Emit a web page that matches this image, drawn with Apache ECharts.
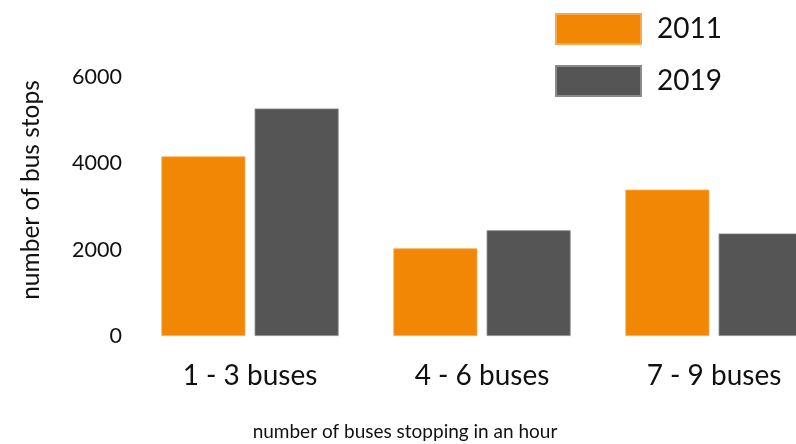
<!DOCTYPE html>
<html>
<head>
<meta charset="utf-8">
<script src="https://cdn.jsdelivr.net/npm/echarts@6/dist/echarts.min.js"></script>
<style>
  html, body { margin: 0; padding: 0; background: #fff; }
  #chart { width: 796px; height: 444px; }
</style>
</head>
<body>
<div id="chart"></div>
<script>
// Bus stops by hourly bus frequency, 2011 vs 2019
const categories = ['1 - 3 buses', '4 - 6 buses', '7 - 9 buses'];
const stops2011 = [4160, 2030, 3390];
const stops2019 = [5270, 2450, 2375];
const yTicks = [0, 2000, 4000, 6000];

const FONT = 'Lato';
const chart = echarts.init(document.getElementById('chart'), null, { renderer: 'canvas' });

chart.setOption({
  animation: false,
  backgroundColor: '#ffffff',
  textStyle: { fontFamily: FONT, color: '#1a1a1a' },
  legend: {
    orient: 'vertical',
    left: 555,
    top: 13,
    padding: 0,
    itemWidth: 85,
    itemHeight: 30,
    itemGap: 20,
    icon: 'rect',
    textStyle: { fontFamily: FONT, fontSize: 28, color: '#111', padding: [0, 0, 0, 11] },
    data: ['2011', '2019']
  },
  // the plot runs past the right edge, so the last bar is cut off
  grid: {
    left: 134, width: 696, top: 77, bottom: 108,
    containLabel: false,
    outerBoundsMode: 'none'
  },
  xAxis: {
    type: 'category',
    data: categories,
    axisLine: { show: false },
    axisTick: { show: false },
    axisLabel: { fontFamily: FONT, fontSize: 28, color: '#111', margin: 26 }
  },
  yAxis: {
    type: 'value',
    min: yTicks[0],
    max: yTicks[yTicks.length - 1],
    interval: yTicks[1] - yTicks[0],
    axisLine: { show: false },
    axisTick: { show: false },
    splitLine: { show: false },
    axisLabel: {
      fontFamily: FONT, fontSize: 21.5, color: '#111', margin: 12,
      formatter: v => String(v)
    }
  },
  graphic: [
    {
      type: 'text',
      x: 31, y: 190,
      rotation: Math.PI / 2,
      style: {
        text: 'number of bus stops',
        fontFamily: FONT, fontSize: 24.5, fill: '#111',
        textAlign: 'center', textVerticalAlign: 'middle'
      }
    },
    {
      type: 'text',
      x: 405, y: 432,
      style: {
        text: 'number of buses stopping in an hour',
        fontFamily: FONT, fontSize: 19, fill: '#111',
        textAlign: 'center', textVerticalAlign: 'middle'
      }
    }
  ],
  series: [
    {
      name: '2011', type: 'bar', data: stops2011,
      barWidth: 84, barGap: '11%',
      itemStyle: { color: '#F28705', borderColor: '#F6A850', borderWidth: 0.8 }
    },
    {
      name: '2019', type: 'bar', data: stops2019,
      barWidth: 84,
      itemStyle: { color: '#555555', borderColor: '#8a8a8a', borderWidth: 0.8 }
    }
  ]
});
</script>
</body>
</html>
